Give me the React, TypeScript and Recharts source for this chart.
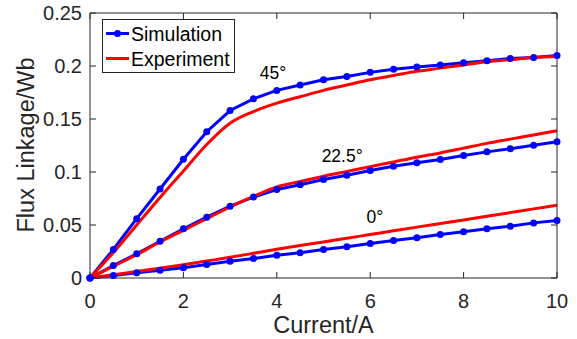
import React from 'react';
import {
  LineChart,
  Line,
  XAxis,
  YAxis,
  Legend,
  ReferenceDot,
} from 'recharts';

// current values (A)
const current = [0, 0.5, 1, 1.5, 2, 2.5, 3, 3.5, 4, 4.5, 5, 5.5, 6, 6.5, 7, 7.5, 8, 8.5, 9, 9.5, 10];

// flux linkage (Wb) per rotor angle
const sim45 = [0, 0.027, 0.056, 0.084, 0.112, 0.138, 0.158, 0.169, 0.177, 0.182, 0.187, 0.19, 0.194, 0.197, 0.199, 0.201, 0.203, 0.205, 0.207, 0.208, 0.21];
const exp45 = [0, 0.024, 0.05, 0.076, 0.101, 0.126, 0.146, 0.157, 0.165, 0.171, 0.177, 0.182, 0.187, 0.191, 0.195, 0.198, 0.201, 0.204, 0.206, 0.208, 0.209];
const sim22 = [0, 0.0118, 0.0228, 0.0347, 0.0464, 0.0574, 0.0678, 0.0763, 0.0835, 0.088, 0.093, 0.097, 0.1014, 0.1055, 0.1087, 0.1118, 0.1156, 0.119, 0.122, 0.1253, 0.1285];
const exp22 = [0, 0.011, 0.022, 0.034, 0.045, 0.056, 0.067, 0.077, 0.086, 0.091, 0.096, 0.1005, 0.105, 0.1095, 0.114, 0.118, 0.1225, 0.127, 0.131, 0.135, 0.139];
const sim0 = [0, 0.0024, 0.0049, 0.0074, 0.0096, 0.0127, 0.0158, 0.0184, 0.0215, 0.0238, 0.0269, 0.0294, 0.0325, 0.0354, 0.0379, 0.041, 0.0436, 0.0464, 0.0489, 0.052, 0.0542];
const exp0 = [0, 0.003, 0.0062, 0.0093, 0.0125, 0.016, 0.0195, 0.0233, 0.0272, 0.0306, 0.034, 0.0375, 0.041, 0.0445, 0.048, 0.0514, 0.0548, 0.0582, 0.0617, 0.0652, 0.0687];

const xTicks = [0, 2, 4, 6, 8, 10];
const yTicks = [0, 0.05, 0.1, 0.15, 0.2, 0.25];

// angle labels placed next to each curve pair
const angleLabels = [
  { text: '45°', x: 3.92, y: 0.194 },
  { text: '22.5°', x: 5.4, y: 0.1155 },
  { text: '0°', x: 6.1, y: 0.058 },
];

const data = current.map((x, i) => ({
  x,
  sim45: sim45[i],
  exp45: exp45[i],
  sim22: sim22[i],
  exp22: exp22[i],
  sim0: sim0[i],
  exp0: exp0[i],
}));

const FONT = "'Liberation Sans', Arial, Helvetica, sans-serif";
const AXIS = '#262626';
const BLUE = '#0000ff';
const RED = '#ff0000';

const fmtY = (v: number) => (v === 0 ? '0' : String(v));
const blank = () => '';

const YLabel = () => (
  <text
    x={34}
    y={145}
    transform="rotate(-90 34 145)"
    textAnchor="middle"
    fontFamily={FONT}
    fontSize={23.5}
    fill={AXIS}
  >
    Flux Linkage/Wb
  </text>
);

const XLabel = () => (
  <text x={323.5} y={333} textAnchor="middle" fontFamily={FONT} fontSize={23.5} fill={AXIS}>
    Current/A
  </text>
);

const LegendBox = () => (
  <svg width={133} height={54} style={{ display: 'block' }}>
    <rect x={0.5} y={0.5} width={132} height={53} fill="#fff" stroke={AXIS} strokeWidth={1} />
    <line x1={4} y1={14.5} x2={27} y2={14.5} stroke={BLUE} strokeWidth={3} />
    <circle cx={15.5} cy={14.5} r={3.5} fill={BLUE} />
    <text x={29} y={21.5} fontFamily={FONT} fontSize={19.5} fill="#000">Simulation</text>
    <line x1={4} y1={39.5} x2={27} y2={39.5} stroke={RED} strokeWidth={3} />
    <text x={29} y={46.5} fontFamily={FONT} fontSize={19.5} fill="#000">Experiment</text>
  </svg>
);

const tickStyle = { fontFamily: FONT, fontSize: 20, fill: AXIS };
const simDot = { r: 3.5, fill: BLUE, stroke: BLUE, strokeWidth: 0 };

export default function App() {
  return (
    <div style={{ position: 'absolute', left: 0, top: 0, background: '#fff' }}>
      <LineChart
        width={577}
        height={339}
        data={data}
        margin={{ top: 12, right: 19, bottom: 0, left: 0 }}
      >
        <XAxis
          dataKey="x"
          type="number"
          domain={[0, 10]}
          ticks={xTicks}
          height={61}
          tickSize={-6}
          tickMargin={22}
          stroke={AXIS}
          tick={tickStyle}
          tickLine={{ stroke: AXIS }}
          label={<XLabel />}
        />
        <XAxis
          xAxisId="top"
          dataKey="x"
          orientation="top"
          type="number"
          domain={[0, 10]}
          ticks={xTicks}
          height={1}
          tickSize={-6}
          tickFormatter={blank}
          stroke={AXIS}
          tickLine={{ stroke: AXIS }}
        />
        <YAxis
          type="number"
          domain={[0, 0.25]}
          ticks={yTicks}
          width={90}
          tickSize={-6}
          tickMargin={14}
          tickFormatter={fmtY}
          stroke={AXIS}
          tick={tickStyle}
          tickLine={{ stroke: AXIS }}
          label={<YLabel />}
        />
        <YAxis
          yAxisId="right"
          orientation="right"
          type="number"
          domain={[0, 0.25]}
          ticks={yTicks}
          width={1}
          tickSize={-6}
          tickFormatter={blank}
          stroke={AXIS}
          tickLine={{ stroke: AXIS }}
        />
        <Line type="linear" dataKey="sim45" stroke={BLUE} strokeWidth={3} dot={simDot} isAnimationActive={false} />
        <Line type="linear" dataKey="sim22" stroke={BLUE} strokeWidth={3} dot={simDot} isAnimationActive={false} />
        <Line type="linear" dataKey="sim0" stroke={BLUE} strokeWidth={3} dot={simDot} isAnimationActive={false} />
        <Line type="monotone" dataKey="exp45" stroke={RED} strokeWidth={3} dot={false} isAnimationActive={false} />
        <Line type="monotone" dataKey="exp22" stroke={RED} strokeWidth={3} dot={false} isAnimationActive={false} />
        {/* same domains as the main axes, so this series also anchors the box frame axes */}
        <Line
          xAxisId="top"
          yAxisId="right"
          type="monotone"
          dataKey="exp0"
          stroke={RED}
          strokeWidth={3}
          dot={false}
          isAnimationActive={false}
        />
        {angleLabels.map((a) => (
          <ReferenceDot
            key={a.text}
            x={a.x}
            y={a.y}
            r={0}
            fill="none"
            stroke="none"
            label={{ value: a.text, position: 'center', fontFamily: FONT, fontSize: 17.5, fill: '#000' }}
          />
        ))}
        <Legend
          layout="vertical"
          align="center"
          verticalAlign="middle"
          content={<LegendBox />}
          wrapperStyle={{ left: 102, top: 19, width: 133, height: 54 }}
        />
      </LineChart>
    </div>
  );
}
